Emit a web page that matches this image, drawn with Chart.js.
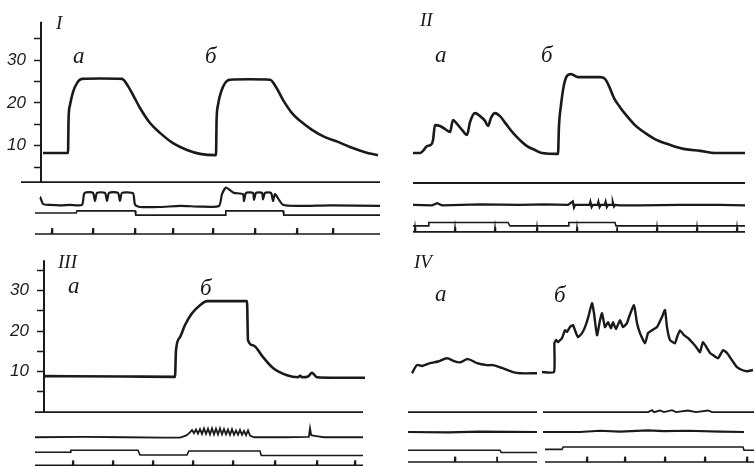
<!DOCTYPE html>
<html><head><meta charset="utf-8">
<script src="https://cdn.jsdelivr.net/npm/chart.js@4.4.1/dist/chart.umd.min.js"></script>
<style>
html,body{margin:0;padding:0;background:#fff;}
#wrap{position:relative;width:754px;height:466px;overflow:hidden;background:#fff;}
.pc{position:absolute;}
.pc canvas{display:block;}
.lbl{position:absolute;font-family:'Liberation Serif','DejaVu Serif',serif;font-style:italic;color:#1a1a1a;line-height:normal;white-space:nowrap;}
</style></head><body>
<div id="wrap">
  <div class="pc" style="left:0;top:0;"><canvas id="c1" width="381" height="240" style="width:381px;height:240px"></canvas></div>
  <div class="pc" style="left:400px;top:0;"><canvas id="c2" width="354" height="240" style="width:354px;height:240px"></canvas></div>
  <div class="pc" style="left:0;top:240px;"><canvas id="c3" width="381" height="226" style="width:381px;height:226px"></canvas></div>
  <div class="pc" style="left:400px;top:240px;"><canvas id="c4" width="354" height="226" style="width:354px;height:226px"></canvas></div>
</div>
<script>
// ---------- DATA (time units, pressure units; lower traces at fixed offsets) ----------
const AXIS_TICKS = [5, 10, 15, 20, 25, 30, 35];
const AXIS_LABELS = [10, 20, 30];

// Panel I
const p1Pressure = [[0.5,8.3],[6.75,8.3],[6.9,16.5],[7.25,19.5],[8,22.5],[9,24.6],[10.25,25.6],[15,25.7],[20.25,25.6],
  [21.75,23.9],[23.25,21.4],[24.75,18.8],[27.25,15.3],[29.75,13.0],[33,10.6],[36.5,9.0],[39.75,8.1],[43.75,7.8],
  [43.9,16.0],[44.25,19.5],[45,22.5],[46,24.6],[47.25,25.4],[52,25.5],[57.25,25.4],[58.75,23.7],[60.5,20.7],
  [62.75,17.6],[64.75,15.8],[67.75,13.7],[71,12.0],[74.25,10.9],[77.25,9.7],[81,8.5],[84.25,7.8]];
const p1Axis = [[0,1.5],[0,38.9]];
const p1Zero = [[-5,1.5],[84.75,1.5]];
const p1Emg = [[-1.5,-3.8],[-0.75,-3.3],[-0.25,-1.95],[0.5,-3.6],[2.25,-3.8],[4.75,-3.9],[7.25,-3.8],[10.25,-3.8],
  [10.75,-1.3],[11.25,-0.9],[13,-1.0],[13.5,-2.9],[14,-1.0],[16,-1.0],[16.5,-2.9],[17,-1.0],[19.25,-1.0],[19.75,-2.9],
  [20.25,-1.0],[23,-1.1],[23.5,-3.8],[24.75,-4.3],[29.75,-4.3],[34.75,-4.05],[39.75,-4.2],[44.5,-4.05],[45.25,-1.3],
  [46.25,0.25],[47.5,-0.55],[48.25,-1.0],[50.5,-1.3],[50.75,-2.9],[51.25,-1.0],[53,-1.0],[53.25,-2.7],[53.75,-1.0],
  [55.25,-1.0],[55.5,-2.5],[56,-1.0],[57.5,-1.0],[58,-2.9],[58.5,-1.3],[60.5,-3.8],[64.75,-4.05],[72.25,-3.9],[84.75,-4.05]];
const p1Stim = [[-1.5,-5.7],[8.8,-5.7],[9.0,-5.2],[23.5,-5.2],[23.7,-6.2],[46,-6.2],[46.2,-5.2],[60.5,-5.2],[60.7,-6.2],[84.75,-6.2]];
const p1TimeTicks = [2.75, 13, 23.5, 33, 43, 53.5, 64, 73];

// Panel II
const p2Pressure = [[3.25,8.3],[5,8.3],[5.75,8.8],[6.75,9.9],[7.75,10.2],[8.25,11.3],[8.75,14.8],[10,14.6],[11.25,13.9],
  [12.5,13.2],[13.25,16.0],[14.25,15.1],[15.5,13.7],[16.75,12.5],[17.5,15.5],[18.75,17.6],[20,16.9],[21.25,15.8],[22,14.6],
  [22.75,16.5],[23.75,17.6],[25,16.9],[26.5,15.1],[28.25,13.0],[30,11.3],[31.75,9.9],[33.75,9.0],[35.5,8.3],[39.5,8.1],
  [39.75,14.8],[40.25,19.5],[41,24.2],[41.75,26.3],[42.75,26.7],[44.5,26.0],[50,26.0],[51.25,25.6],[52.25,23.9],
  [53.5,21.1],[55,19.0],[56.75,16.9],[58.75,14.8],[61.25,13.0],[64.25,11.3],[67.5,10.2],[71.25,9.2],[75,8.8],[78.75,8.3],[86.25,8.3]];
const p2Zero = [[3.25,1.3],[86.25,1.3]];
const p2Emg = [[3.25,-3.8],[8,-3.9],[9.3,-3.4],[10.5,-3.9],[20,-3.7],[30,-3.8],[36,-3.7],[42,-3.8],[43.2,-3.0],[43.5,-4.4],
  [43.8,-3.8],[47.4,-3.8],[47.6,-3.1],[47.9,-4.3],[48.2,-3.8],[49.4,-3.8],[49.6,-3.1],[49.9,-4.3],[50.2,-3.8],[51.2,-3.8],
  [51.4,-3.1],[51.7,-4.3],[52,-3.8],[53,-3.8],[53.2,-3.2],[53.5,-4.2],[53.8,-3.8],[55,-3.9],[60,-3.9],[70,-3.8],[80,-3.8],[86.25,-3.9]];
const p2Stim = [[3.25,-8.7],[7,-8.7],[7.2,-7.9],[27,-7.9],[27.5,-8.7],[42,-8.7],[42.2,-7.9],[53.75,-7.9],[54,-8.7],[86.25,-8.7]];
const p2TimeTicks = [3.75, 13.75, 23.75, 34.25, 44.25, 54.25, 64.25, 74.25, 84.25];

// Panel III
const p3Pressure = [[0,8.9],[20,8.8],[32.75,8.7],[33,15.3],[34,18.5],[35.25,21.5],[37,24.4],[39,26.4],[40.75,27.4],
  [50.75,27.4],[51,17.8],[52.25,16.5],[54.75,13.6],[57.25,10.9],[60.75,9.1],[63.5,8.6],[64,9.0],[64.6,8.6],[66,8.8],
  [67,9.7],[68.25,8.6],[72,8.5],[80.25,8.5]];
const p3Axis = [[0,0],[0,37.5]];
const p3Zero = [[-2.25,0],[79.75,0]];
const p3Emg = [[-2.25,-6.2],[10,-6.1],[20,-6.2],[30,-6.3],[34,-6.3],[35.5,-5.8],[36.5,-5.0],[37,-4.4],[37.5,-5.2],[38,-4.3],
  [38.5,-5.3],[39,-4.2],[39.5,-5.4],[40,-4.0],[40.5,-5.4],[41,-4.1],[41.5,-5.5],[42,-4.0],[42.5,-5.5],[43,-4.1],[43.5,-5.5],
  [44,-4.0],[44.5,-5.5],[45,-4.2],[45.5,-5.5],[46,-4.3],[46.5,-5.6],[47,-4.2],[47.5,-5.6],[48,-4.5],[48.5,-5.6],[49,-4.4],
  [49.5,-5.6],[50,-4.6],[50.5,-5.7],[51,-4.5],[51.5,-5.8],[52.5,-6.2],[60,-6.2],[66.2,-6.1],[66.5,-4.0],[66.8,-5.7],
  [68,-5.9],[70,-6.2],[79.75,-6.2]];
const p3Stim = [[-2.25,-9.9],[6.5,-9.9],[6.7,-9.4],[23.5,-9.4],[24,-10.6],[35.75,-10.6],[36.2,-9.6],[54,-9.6],[54.3,-10.7],[79.75,-10.7]];
const p3TimeTicks = [7.25, 17.25, 27.25, 37.25, 47.25, 57.75, 68.25, 77.75];

// Panel IV
const p4PressureA = [[3,9.6],[4.25,11.6],[5.5,11.4],[7.5,12.1],[9.5,12.5],[11.75,13.3],[13.5,12.6],[15,12.3],[17,13.1],
  [19.25,12.1],[21.75,11.6],[23.25,11.6],[25.5,10.9],[28.25,9.9],[30,9.6],[34.25,9.6]];
const p4PressureB = [[35.5,9.9],[38.5,9.9],[38.6,17.0],[39,17.8],[39.5,17.3],[40.5,18.3],[41.25,20.2],[41.75,19.8],
  [42.5,21.0],[43.25,21.5],[43.75,20.2],[44.5,18.5],[45.5,19.5],[46.25,21.0],[47,23.2],[48,26.9],[48.5,24.4],[49.25,19.0],
  [50,22.7],[50.5,24.4],[51.25,21.0],[52,22.2],[52.75,20.7],[53.25,22.2],[54,20.5],[55,22.7],[55.75,21.0],[56.75,22.0],
  [57.25,23.5],[58.5,26.4],[59.25,22.0],[60,19.5],[61.25,17.0],[62,19.5],[63,20.2],[64.25,21.0],[65.5,23.5],[66.25,25.2],
  [66.75,21.0],[67.5,17.8],[68.75,17.0],[69.25,18.5],[70,20.2],[71,19.0],[72,18.3],[73.25,17.0],[74.25,15.8],[75,14.8],
  [75.75,17.3],[76.75,15.8],[77.5,14.6],[78.25,14.1],[79.5,13.3],[80.75,15.3],[81.75,14.6],[83,12.8],[84.25,11.1],
  [85.5,10.4],[86.75,10.1],[88.25,10.4]];
const p4Zero = [[2,0],[34.25,0],[35,null],[35.75,0],[62,0],[63,0.5],[63.5,0],[65,0.4],[66,0],[68,0.5],[69,0],[72,0.4],
  [74,0],[77,0.4],[78,0],[88.5,0]];
const p4Emg = [[2,-4.9],[12,-5.0],[20,-4.8],[34.25,-4.9],[35,null],[35.75,-4.9],[45,-4.9],[50,-4.6],[55,-4.8],[62,-4.5],
  [66,-4.7],[72,-4.6],[80,-4.8],[86,-4.9]];
const p4Stim = [[2,-9.4],[25,-9.4],[25.3,-9.95],[34.25,-9.95],[35,null],[36.25,-9.2],[40.5,-9.2],[40.8,-8.6],[85.75,-8.6],[86,-9.4],[88.5,-9.4]];
const p4TimeTicksA = [13.75, 24.25];
const p4TimeTicksB = [46.75, 56.25, 66.25, 76.25, 86.75];

// ---------- text labels ----------
const LABELS = [
  {text:'I', x:56, y:29, size:19},
  {text:'а', x:73, y:63, size:23},
  {text:'б', x:205, y:63, size:23},
  {text:'II', x:420, y:26, size:19},
  {text:'а', x:435, y:62, size:23},
  {text:'б', x:541, y:62, size:23},
  {text:'III', x:58, y:268, size:19},
  {text:'а', x:68, y:293, size:23},
  {text:'б', x:200, y:295, size:23},
  {text:'IV', x:414, y:268, size:19},
  {text:'а', x:435, y:301, size:23},
  {text:'б', x:554, y:302, size:23}
];

// ---------- helpers ----------
const INK = '#1a1a1a';
function xy(arr){ return arr.map(p => ({x:p[0], y:p[1]})); }
function timeTrace(range, ticks, base, top){
  const pts = [[range[0], base]];
  ticks.forEach(t => { pts.push([t-0.12, base], [t, top], [t+0.12, base]); });
  pts.push([range[1], base]);
  return pts;
}
function line(data, width, opts){
  return Object.assign({data: xy(data), borderColor: INK, borderWidth: width, pointRadius: 0,
    tension: 0, fill: false, clip: false, spanGaps: false}, opts || {});
}
const SMOOTH = {cubicInterpolationMode: 'monotone'};

function makePanel(id, cfg){
  new Chart(document.getElementById(id), {
    type: 'line',
    data: {datasets: cfg.datasets},
    options: {
      responsive: false, animation: false, devicePixelRatio: 1, events: [],
      layout: {padding: 0},
      plugins: {legend: {display: false}, tooltip: {enabled: false}},
      scales: {
        x: {type: 'linear', display: false, min: cfg.xMin, max: cfg.xMax},
        y: {type: 'linear', display: cfg.axis, min: cfg.yMin, max: cfg.yMax, position: 'left',
          afterFit: s => { s.width = cfg.axisWidth; s.paddingTop = 0; s.paddingBottom = 0; },
          afterBuildTicks: s => { s.ticks = AXIS_TICKS.map(v => ({value: v})); },
          ticks: {autoSkip: false, padding: 8, color: INK,
            font: {family: "'Liberation Sans', Arial, sans-serif", size: 17, style: 'italic', weight: 'normal'},
            callback: v => AXIS_LABELS.includes(v) ? String(v) : ''},
          grid: {drawOnChartArea: false, drawTicks: true, tickLength: 7, tickColor: INK, tickWidth: 1.5},
          border: {display: false}
        }
      }
    }
  });
}

// Panel I
makePanel('c1', {axis: true, axisWidth: 41, xMin: 0, xMax: 85, yMin: -12, yMax: 44, datasets: [
  line(p1Axis, 2),
  line(p1Zero, 1.8),
  line(p1Pressure, 2.6, SMOOTH),
  line(p1Emg, 2.2, {tension: 0.2}),
  line(p1Stim, 1.6),
  line(timeTrace([-1.5, 84.75], p1TimeTicks, -10.6, -9.2), 1.6)
]});
// Panel II
makePanel('c2', {axis: false, axisWidth: 0, xMin: 0, xMax: 88.5, yMin: -12, yMax: 44, datasets: [
  line(p2Zero, 1.8),
  line(p2Pressure, 2.6, SMOOTH),
  line(p2Emg, 2.2),
  line(p2Stim, 1.6),
  line(timeTrace([3.25, 86.25], p2TimeTicks, -10.1, -9.0), 1.6)
]});
// Panel III
makePanel('c3', {axis: true, axisWidth: 44, xMin: 0, xMax: 84.25, yMin: -13.3, yMax: 42.5, datasets: [
  line(p3Axis, 2),
  line(p3Zero, 1.8),
  line(p3Pressure, 2.6, SMOOTH),
  line(p3Emg, 1.8),
  line(p3Stim, 1.6),
  line(timeTrace([-2.25, 79.75], p3TimeTicks, -13.1, -11.9), 1.6)
]});
// Panel IV
makePanel('c4', {axis: false, axisWidth: 0, xMin: 0, xMax: 88.5, yMin: -13.3, yMax: 42.5, datasets: [
  line(p4Zero, 1.8),
  line(p4PressureA, 2.4, {tension: 0.3}),
  line(p4PressureB, 2.4, {tension: 0.15}),
  line(p4Emg, 2.2),
  line(p4Stim, 1.6),
  line(timeTrace([2, 34.25], p4TimeTicksA, -12.3, -11.0), 1.6),
  line(timeTrace([36.25, 88.5], p4TimeTicksB, -12.3, -11.0), 1.6)
]});

// labels as real text
const wrap = document.getElementById('wrap');
LABELS.forEach(l => {
  const d = document.createElement('div');
  d.className = 'lbl';
  d.textContent = l.text;
  d.style.fontSize = l.size + 'px';
  d.style.left = l.x + 'px';
  d.style.top = (l.y - 0.891 * l.size) + 'px';
  wrap.appendChild(d);
});
</script>
</body></html>
